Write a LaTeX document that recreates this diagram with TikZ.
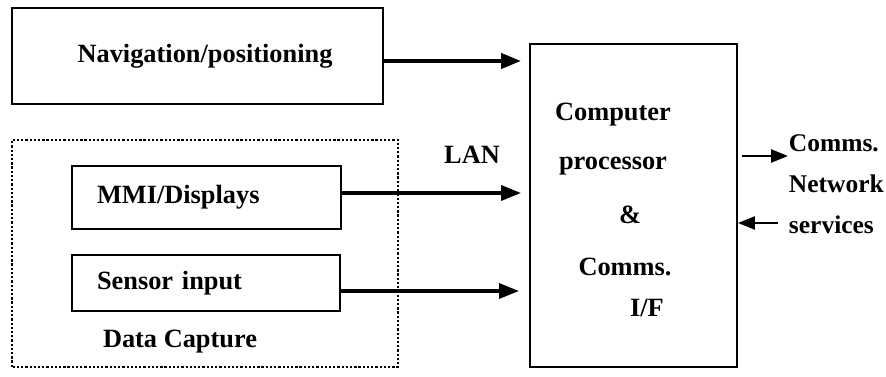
\documentclass[tikz,border=0pt]{standalone}
\usepackage{fontspec}
\setmainfont{Liberation Serif}
\usetikzlibrary{arrows.meta}

\tikzset{every picture/.style={line width=1.1pt}}
\tikzset{
	blk/.style={draw, rectangle, minimum width=#1, inner sep=0pt},
	arr/.style={-{Triangle[length=0.4cm,width=0.3cm]}},
	sarr/.style={-{Triangle[length=0.34cm,width=0.26cm]}, line width=1.4pt}
}

\begin{document}
\begin{tikzpicture}[font=\fontsize{15}{17}\selectfont\bfseries]
		\useasboundingbox (0,0) rectangle (17.72,7.54);

		\node[blk=7.42cm, minimum height=1.92cm] (nav) at (3.95,6.42) {\hspace{0.3cm}Navigation/positioning};
		\node[blk=4.14cm, minimum height=6.46cm] (cpu) at (12.67,3.43) {};

		% data capture group
		\draw[line width=1.3pt, dash pattern=on 1.3pt off 1.1pt] (0.24,0.2) rectangle (7.96,4.74);
		\node[blk=5.38cm, minimum height=1.26cm, text width=4.38cm, inner xsep=0.5cm, align=left] (mmi) at (4.13,3.59) {MMI/Displays};
		\node[blk=5.36cm, minimum height=1.12cm, text width=4.36cm, inner xsep=0.5cm, align=left] (sens) at (4.12,1.88) {\raisebox{2pt}{Sensor input}};
		\node (dc) at (3.6,0.7) {Data Capture};
		\node (lan) at (9.44,4.44) {LAN};

		\foreach \x/\y/\t [count=\i] in {12.26/5.25/{Computer}, 12.26/4.22/{processor}, 12.6/3.24/{\&}, 12.5/2.2/{Comms.}, 12.94/1.38/{I/F}}
			\node (c\i) at (\x,\y) {\t};

		\node[anchor=west, inner xsep=0pt, align=left, font=\fontsize{14.5}{23.5}\selectfont\bfseries] (net) at (15.76,3.86) {Comms.\\Network\\services};
		\coordinate (out) at (15.76,4.42);
		\coordinate (in) at (15.56,3.08);

		\draw[arr, line width=2.3pt, shorten >=0.16cm] ([yshift=-0.1cm]nav.east) -- ([yshift=-0.1cm]nav.east -| cpu.west);
		\draw[arr, line width=2pt, shorten >=0.16cm] ([yshift=0.09cm]mmi.east) -- ([yshift=0.09cm]mmi.east -| cpu.west);
		\draw[arr, line width=1.8pt, shorten >=0.2cm] ([yshift=-0.16cm]sens.east) -- ([yshift=-0.16cm]sens.east -| cpu.west);

		\draw[sarr, shorten <=0.08cm] (out -| cpu.east) -- (out);
		\draw[sarr] (in) -- (in -| cpu.east);
	\end{tikzpicture}
\end{document}
